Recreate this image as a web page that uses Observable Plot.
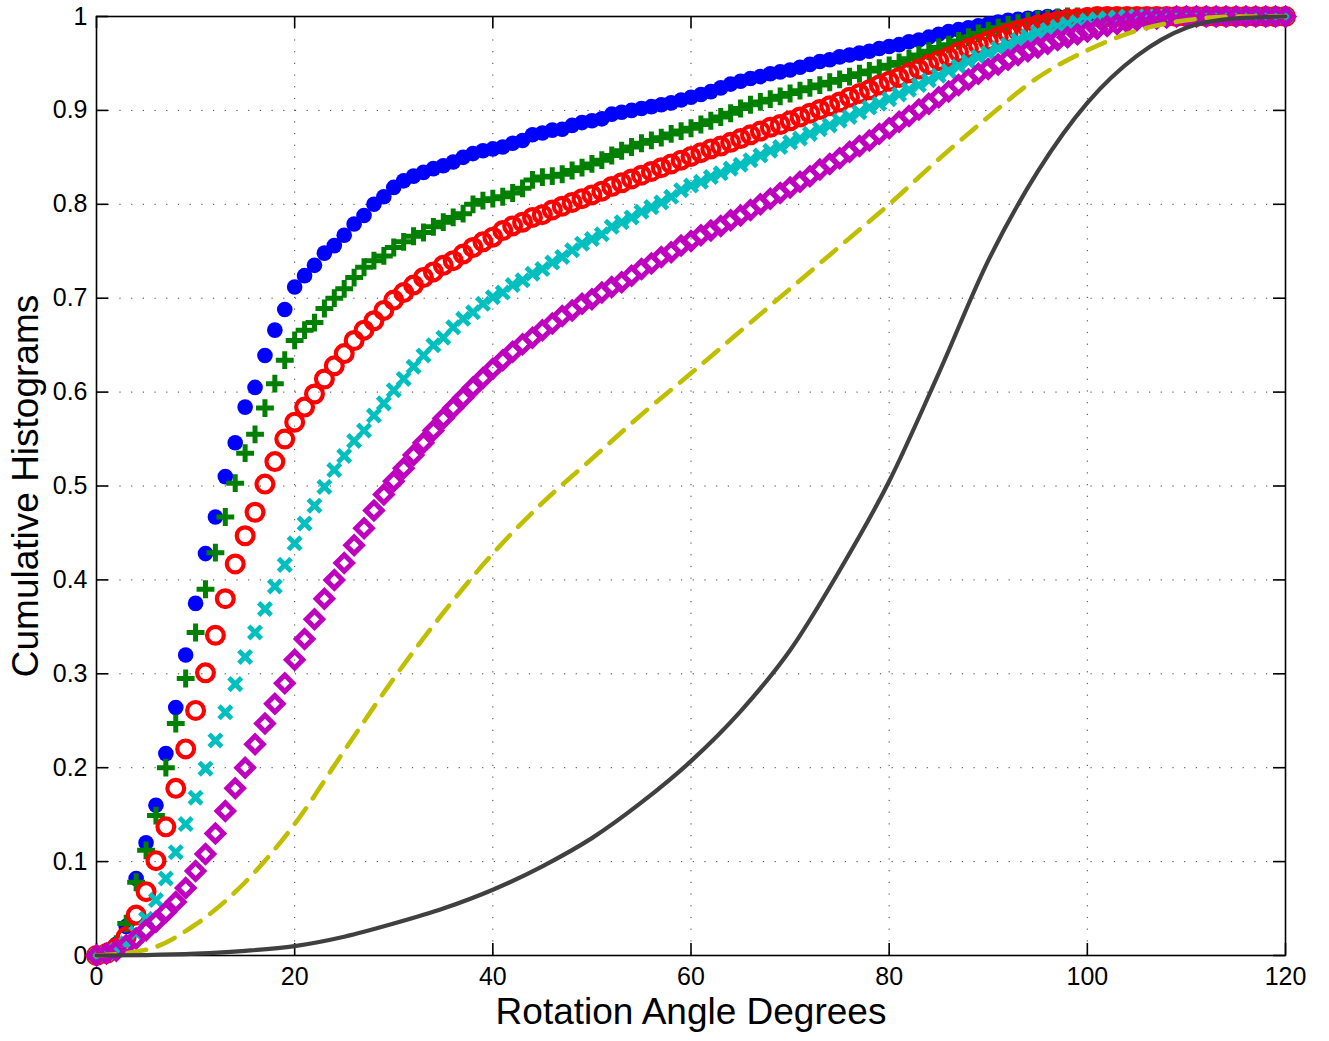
<!DOCTYPE html>
<html>
<head>
<meta charset="utf-8">
<script src="https://cdn.jsdelivr.net/npm/d3@7"></script>
<script src="https://cdn.jsdelivr.net/npm/@observablehq/plot@0.6"></script>
<style>
  html, body { margin: 0; padding: 0; background: #fff; }
  #chart svg { display: block; }
</style>
</head>
<body>
<div id="chart"></div>
<script>
// Angle bins (degrees) for the marker series
const angles = d3.range(0, 121);

const blueVals = [
  0, 0.004, 0.012, 0.031, 0.082, 0.12, 0.16, 0.215, 0.264, 0.32,
  0.375, 0.428, 0.467, 0.51, 0.546, 0.584, 0.605, 0.639, 0.666, 0.688,
  0.712, 0.724, 0.735, 0.748, 0.756, 0.767, 0.779, 0.788, 0.8, 0.808,
  0.818, 0.825, 0.83, 0.834, 0.838, 0.841, 0.845, 0.85, 0.854, 0.857,
  0.859, 0.861, 0.865, 0.868, 0.874, 0.876, 0.879, 0.88, 0.884, 0.887,
  0.889, 0.891, 0.896, 0.898, 0.9, 0.902, 0.904, 0.906, 0.908, 0.911,
  0.914, 0.917, 0.92, 0.924, 0.928, 0.931, 0.934, 0.936, 0.939, 0.941,
  0.943, 0.946, 0.949, 0.952, 0.954, 0.957, 0.959, 0.961, 0.963, 0.966,
  0.968, 0.97, 0.973, 0.975, 0.978, 0.981, 0.984, 0.986, 0.988, 0.99,
  0.992, 0.994, 0.996, 0.997, 0.998, 0.999, 1, 1, 1, 1,
  1, 1, 1, 1, 1, 1, 1, 1, 1, 1,
  1, 1, 1, 1, 1, 1, 1, 1, 1, 1,
  1
];
const greenVals = [
  0, 0.004, 0.012, 0.034, 0.078, 0.112, 0.149, 0.2, 0.247, 0.295,
  0.344, 0.39, 0.429, 0.467, 0.503, 0.535, 0.555, 0.583, 0.609, 0.634,
  0.655, 0.666, 0.674, 0.689, 0.7, 0.71, 0.722, 0.733, 0.74, 0.745,
  0.754, 0.76, 0.766, 0.77, 0.776, 0.781, 0.786, 0.79, 0.8, 0.804,
  0.806, 0.808, 0.812, 0.817, 0.826, 0.829, 0.83, 0.832, 0.836, 0.839,
  0.843, 0.847, 0.852, 0.857, 0.861, 0.865, 0.868, 0.871, 0.875, 0.878,
  0.881, 0.885, 0.889, 0.893, 0.897, 0.902, 0.906, 0.909, 0.912, 0.915,
  0.918, 0.921, 0.924, 0.927, 0.93, 0.933, 0.936, 0.939, 0.942, 0.945,
  0.948, 0.951, 0.955, 0.959, 0.963, 0.967, 0.97, 0.974, 0.978, 0.982,
  0.985, 0.988, 0.991, 0.993, 0.995, 0.997, 0.998, 0.999, 1, 1,
  1, 1, 1, 1, 1, 1, 1, 1, 1, 1,
  1, 1, 1, 1, 1, 1, 1, 1, 1, 1,
  1
];
const redVals = [
  0, 0.002, 0.008, 0.02, 0.043, 0.068, 0.101, 0.137, 0.178, 0.22,
  0.261, 0.301, 0.341, 0.38, 0.417, 0.447, 0.472, 0.502, 0.526, 0.55,
  0.568, 0.584, 0.598, 0.614, 0.628, 0.641, 0.655, 0.666, 0.676, 0.687,
  0.698, 0.706, 0.714, 0.722, 0.728, 0.735, 0.74, 0.747, 0.754, 0.76,
  0.765, 0.772, 0.777, 0.781, 0.786, 0.789, 0.794, 0.798, 0.802, 0.806,
  0.81, 0.814, 0.819, 0.823, 0.827, 0.831, 0.835, 0.839, 0.843, 0.847,
  0.851, 0.855, 0.859, 0.862, 0.866, 0.87, 0.874, 0.878, 0.882, 0.885,
  0.889, 0.893, 0.897, 0.901, 0.905, 0.909, 0.914, 0.918, 0.922, 0.927,
  0.931, 0.935, 0.94, 0.944, 0.949, 0.953, 0.957, 0.962, 0.966, 0.97,
  0.974, 0.978, 0.982, 0.985, 0.988, 0.991, 0.993, 0.995, 0.997, 0.998,
  0.999, 1, 1, 1, 1, 1, 1, 1, 1, 1,
  1, 1, 1, 1, 1, 1, 1, 1, 1, 1,
  1
];
const cyanVals = [
  0, 0.002, 0.006, 0.013, 0.024, 0.039, 0.059, 0.082, 0.11, 0.14,
  0.168, 0.199, 0.229, 0.259, 0.289, 0.318, 0.344, 0.369, 0.393, 0.416,
  0.439, 0.46, 0.479, 0.499, 0.517, 0.532, 0.548, 0.559, 0.575, 0.588,
  0.602, 0.614, 0.627, 0.639, 0.65, 0.658, 0.669, 0.678, 0.685, 0.694,
  0.701, 0.706, 0.714, 0.719, 0.726, 0.731, 0.738, 0.744, 0.751, 0.758,
  0.763, 0.768, 0.776, 0.781, 0.786, 0.792, 0.797, 0.802, 0.808, 0.815,
  0.82, 0.824, 0.829, 0.833, 0.838, 0.842, 0.847, 0.852, 0.857, 0.861,
  0.866, 0.87, 0.875, 0.88, 0.884, 0.889, 0.893, 0.898, 0.903, 0.907,
  0.912, 0.917, 0.922, 0.927, 0.932, 0.937, 0.942, 0.947, 0.952, 0.957,
  0.961, 0.966, 0.97, 0.975, 0.979, 0.983, 0.986, 0.989, 0.992, 0.994,
  0.996, 0.997, 0.998, 0.999, 1, 1, 1, 1, 1, 1,
  1, 1, 1, 1, 1, 1, 1, 1, 1, 1,
  1
];
const magentaVals = [
  0, 0.002, 0.005, 0.011, 0.018, 0.027, 0.036, 0.046, 0.057, 0.072,
  0.09, 0.108, 0.13, 0.154, 0.178, 0.2, 0.225, 0.247, 0.268, 0.29,
  0.315, 0.337, 0.358, 0.38, 0.4, 0.418, 0.437, 0.455, 0.474, 0.491,
  0.505, 0.519, 0.533, 0.546, 0.559, 0.572, 0.583, 0.594, 0.605, 0.615,
  0.625, 0.634, 0.643, 0.651, 0.658, 0.666, 0.673, 0.681, 0.687, 0.694,
  0.699, 0.706, 0.712, 0.717, 0.724, 0.731, 0.737, 0.744, 0.749, 0.756,
  0.761, 0.767, 0.772, 0.777, 0.783, 0.788, 0.794, 0.8, 0.806, 0.812,
  0.818, 0.824, 0.83, 0.837, 0.843, 0.849, 0.856, 0.862, 0.868, 0.875,
  0.881, 0.888, 0.894, 0.901, 0.907, 0.914, 0.92, 0.927, 0.933, 0.939,
  0.944, 0.949, 0.954, 0.959, 0.963, 0.967, 0.971, 0.975, 0.978, 0.981,
  0.984, 0.987, 0.99, 0.992, 0.994, 0.996, 0.997, 0.998, 0.999, 1,
  1, 1, 1, 1, 1, 1, 1, 1, 1, 1,
  1
];

// Smooth reference curves, read every 5 degrees
const lineAngles = [0, 5, 10, 15, 20, 25, 30, 35, 40, 45, 50, 55, 60, 65, 70, 75, 80, 85, 90, 95, 100, 105, 110, 115, 120];
const yellowVals = [0, 0.006, 0.033, 0.078, 0.14, 0.218, 0.295, 0.365, 0.428, 0.482, 0.529, 0.576, 0.62, 0.665, 0.71, 0.755, 0.8, 0.848, 0.893, 0.935, 0.964, 0.985, 0.996, 1, 1];
const grayVals   = [0, 0.0005, 0.002, 0.005, 0.01, 0.02, 0.034, 0.05, 0.07, 0.095, 0.125, 0.163, 0.207, 0.26, 0.325, 0.41, 0.505, 0.62, 0.74, 0.835, 0.908, 0.958, 0.988, 0.998, 1];

// Axes
const xTicks = [0, 20, 40, 60, 80, 100, 120];
const yTicks = [0, 0.1, 0.2, 0.3, 0.4, 0.5, 0.6, 0.7, 0.8, 0.9, 1];
const xGrid = [20, 40, 60, 80, 100];
const yGrid = [0.1, 0.2, 0.3, 0.4, 0.5, 0.6, 0.7, 0.8, 0.9];
const xLabel = "Rotation Angle Degrees";
const yLabel = "Cumulative Histograms";

const W = 1329, H = 1041;
const mL = 96, mR = 44, mT = 16, mB = 86;
const plotW = W - mL - mR, plotH = H - mT - mB;

const toRows = (xs, ys) => xs.map((x, i) => ({x, y: ys[i]}));
const blue = toRows(angles, blueVals);
const green = toRows(angles, greenVals);
const red = toRows(angles, redVals);
const cyan = toRows(angles, cyanVals);
const magenta = toRows(angles, magentaVals);
const yellow = toRows(lineAngles, yellowVals);
const gray = toRows(lineAngles, grayVals);

const gridStyle = {stroke: "#000", strokeOpacity: 0.75, strokeWidth: 1, strokeDasharray: "1.2,10.5"};

const chart = Plot.plot({
  width: W,
  height: H,
  marginLeft: mL, marginRight: mR, marginTop: mT, marginBottom: mB,
  style: {fontFamily: "'Liberation Sans', Arial, sans-serif", fontSize: "25px", background: "#fff", color: "#000", overflow: "visible"},
  x: {domain: [0, 120], ticks: xTicks, tickSize: 0, tickPadding: 12, label: null, tickFormat: d => String(d)},
  y: {domain: [0, 1], ticks: yTicks, tickSize: 0, tickPadding: 9, label: null, tickFormat: d => String(d)},
  marks: [
    Plot.ruleX(xGrid, {x: d => d, ...gridStyle}),
    Plot.ruleY(yGrid, {y: d => d, ...gridStyle}),
    Plot.frame({stroke: "#000", strokeWidth: 1.6}),
    Plot.tickX(xTicks, {x: d => d, insetTop: plotH - 12, stroke: "#000", strokeWidth: 1.6}),
    Plot.tickX(xTicks, {x: d => d, insetBottom: plotH - 12, stroke: "#000", strokeWidth: 1.6}),
    Plot.tickY(yTicks, {y: d => d, insetRight: plotW - 12, stroke: "#000", strokeWidth: 1.6}),
    Plot.tickY(yTicks, {y: d => d, insetLeft: plotW - 12, stroke: "#000", strokeWidth: 1.6}),
    Plot.dot(blue, {x: "x", y: "y", r: 7.8, fill: "#0000ff", stroke: "none"}),
    Plot.dot(green, {x: "x", y: "y", symbol: "plus", r: 5.8, stroke: "#008000", strokeWidth: 5, fill: "none"}),
    Plot.dot(red, {x: "x", y: "y", r: 8.4, stroke: "#ff0000", strokeWidth: 4.2, fill: "none"}),
    Plot.dot(cyan, {x: "x", y: "y", symbol: "times", r: 5.8, stroke: "#00bfbf", strokeWidth: 4.8, fill: "none"}),
    Plot.dot(magenta, {x: "x", y: "y", symbol: "diamond2", r: 7.4, stroke: "#bf00bf", strokeWidth: 5, fill: "none"}),
    Plot.line(yellow, {x: "x", y: "y", curve: "monotone-x", stroke: "#bfbf00", strokeWidth: 4.6, strokeDasharray: "19,12"}),
    Plot.line(gray, {x: "x", y: "y", curve: "monotone-x", stroke: "#404040", strokeWidth: 4.2}),
    Plot.text([xLabel], {text: d => d, frameAnchor: "bottom", dy: 68, lineAnchor: "bottom", textAnchor: "middle", fontSize: 37, fill: "#000"}),
    Plot.text([yLabel], {text: d => d, frameAnchor: "left", dx: -59, rotate: -90, lineAnchor: "bottom", textAnchor: "middle", fontSize: 37, fill: "#000"})
  ]
});
document.getElementById("chart").appendChild(chart);
</script>
</body>
</html>
